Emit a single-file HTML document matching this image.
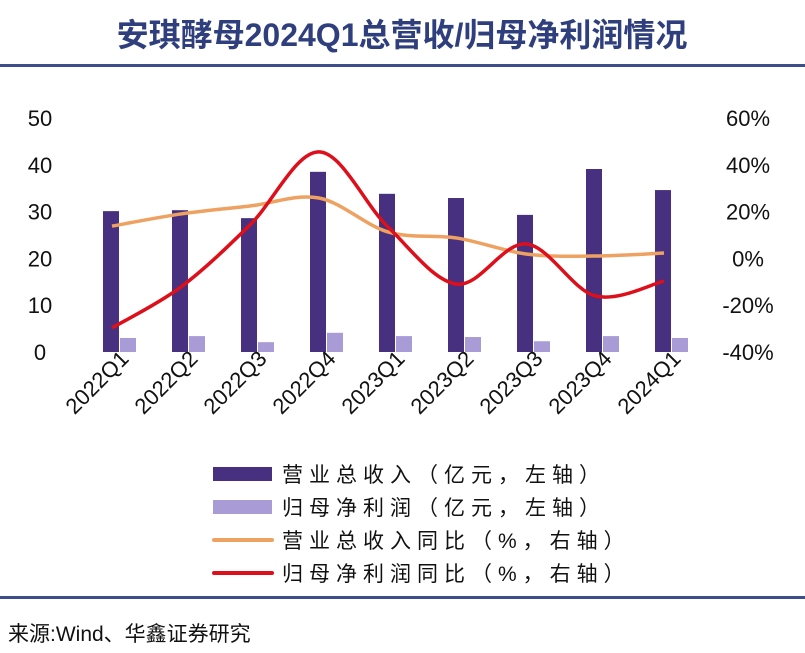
<!DOCTYPE html>
<html><head><meta charset="utf-8"><style>
body{margin:0;background:#fff;}
svg{display:block;}
text{font-family:"Liberation Sans","Noto Sans CJK SC",sans-serif;}
</style></head><body>
<svg id="c" width="805" height="653" viewBox="0 0 805 653">
<text x="402" y="46" text-anchor="middle" font-size="32" font-weight="bold" fill="#2f3f7e">安琪酵母2024Q1总营收/归母净利润情况</text>
<rect x="0" y="64" width="805" height="3" fill="#3d4f8a"/>
<g id="plot"></g>
<g id="legend"></g>
<rect x="0" y="596" width="805" height="3" fill="#3d4f8a"/>
<text x="8" y="641" font-size="21" fill="#111">来源:Wind、华鑫证券研究</text>
</svg>
<script>
const categories=["2022Q1","2022Q2","2022Q3","2022Q4","2023Q1","2023Q2","2023Q3","2023Q4","2024Q1"];
const revenue=[30.1,30.3,28.6,38.5,33.8,32.9,29.3,39.1,34.6];
const netProfit=[3.0,3.4,2.1,4.1,3.4,3.2,2.3,3.4,3.0];
const revenueYoY=[13.8,19,22.4,25.8,11.3,8.7,1.9,1,2.3];
const profitYoY=[-29.7,-12.2,14.3,45.5,13.4,-11,6.2,-16,-9.7];
const leftTicks=[0,10,20,30,40,50];
const rightTicks=[-40,-20,0,20,40,60];
const NS="http://www.w3.org/2000/svg";
const plot=document.getElementById('plot');
function mk(t,a,p){const e=document.createElementNS(NS,t);for(const k in a)e.setAttribute(k,a[k]);(p||plot).appendChild(e);return e;}
const y0=352,y1=118;
const yL=v=>y0-(v-0)/50*(y0-y1);
const yR=v=>y0-(v+40)/100*(y0-y1);
const xC=i=>112+i*69;
leftTicks.forEach(v=>{const t=mk('text',{x:40,y:yL(v)+8,'font-size':22,'text-anchor':'middle',fill:'#111'});t.textContent=v;

});
rightTicks.forEach(v=>{const t=mk('text',{x:748,y:yR(v)+8,'font-size':22,'text-anchor':'middle',fill:'#111'});t.textContent=v+'%';

});
categories.forEach((c,i)=>{
const b=mk('rect',{x:xC(i)-9,y:yL(revenue[i]),width:16,height:y0-yL(revenue[i]),fill:'#46307f'});


const p=mk('rect',{x:xC(i)+8,y:yL(netProfit[i]),width:16,height:y0-yL(netProfit[i]),fill:'#a99bd6'});


const x=xC(i)+18,y=360;
const t=mk('text',{x:x,y:y,'font-size':22,'text-anchor':'end',fill:'#111',transform:`rotate(-45 ${x} ${y})`});t.textContent=c;


});
function smooth(pts){let d=`M${pts[0][0]},${pts[0][1]}`;for(let i=0;i<pts.length-1;i++){const p0=pts[i-1]||pts[i],p1=pts[i],p2=pts[i+1],p3=pts[i+2]||p2;
const c1=[p1[0]+(p2[0]-p0[0])/6,p1[1]+(p2[1]-p0[1])/6],c2=[p2[0]-(p3[0]-p1[0])/6,p2[1]-(p3[1]-p1[1])/6];
d+=` C${c1[0]},${c1[1]} ${c2[0]},${c2[1]} ${p2[0]},${p2[1]}`;}return d;}
const l1=mk('path',{d:smooth(revenueYoY.map((v,i)=>[xC(i),yR(v)])),fill:'none',stroke:'#eea262','stroke-width':3.5});


const l2=mk('path',{d:smooth(profitYoY.map((v,i)=>[xC(i),yR(v)])),fill:'none',stroke:'#dd0f1a','stroke-width':3.5});


const lg=document.getElementById('legend');
const items=[["营业总收入（亿元，左轴）","bar","#46307f"],["归母净利润（亿元，左轴）","bar","#a99bd6"],["营业总收入同比（%，右轴）","line","#eea262"],["归母净利润同比（%，右轴）","line","#dd0f1a"]];
items.forEach((it,i)=>{const y=474+i*33;
const s=it[1]=="bar"?mk('rect',{x:213,y:y-7,width:59,height:14,fill:it[2]},lg):mk('rect',{x:212,y:y-2,width:62,height:4,rx:2,fill:it[2]},lg);


const t=mk('text',{x:282,y:y+8,'font-size':21,'letter-spacing':6,fill:'#111'},lg);t.textContent=it[0];

});
</script>
</body></html>
